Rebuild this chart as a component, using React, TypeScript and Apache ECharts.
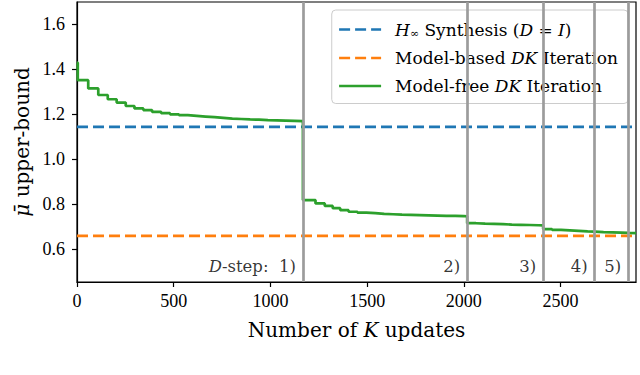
import React, { useEffect, useRef } from 'react';
import * as echarts from 'echarts';

const xTicks = [0, 500, 1000, 1500, 2000, 2500];
const yTicks = [0.6, 0.8, 1.0, 1.2, 1.4, 1.6];
const xMax = 2890;
const yMin = 0.4533;
const yMax = 1.7;

const hinfName = 'H∞ Synthesis (D = I)';
const modelBasedName = 'Model-based DK Iteration';
const modelFreeName = 'Model-free DK Iteration';

const hinfValue = 1.1436;
const modelBasedValue = 0.659;

const dStepX = [1168, 2017, 2410, 2676, 2850];
const dStepLabels = ['{i|D}-step:  1)', '2)', '3)', '4)', '5)'];
const dStepLabelY = 0.522;

const modelFreeX = [
  0, 4, 58, 110, 159, 205, 252, 297, 343, 388, 435, 481, 527, 573, 619, 665, 711, 757, 803, 849, 895, 941, 987, 1033, 1079, 1125,
  1168, 1233, 1281, 1322, 1361, 1404, 1450, 1496, 1542, 1588, 1634, 1680, 1726, 1772, 1818, 1864, 1910, 1956, 2000,
  2017, 2063, 2110, 2156, 2202, 2248, 2294, 2340, 2386,
  2410, 2456, 2502, 2548, 2594, 2640,
  2676, 2722, 2768, 2814, 2850, 2890,
];
const modelFreeY = [
  1.43, 1.352, 1.315, 1.286, 1.267, 1.252, 1.237, 1.226, 1.219, 1.211, 1.205, 1.2, 1.196, 1.193, 1.19, 1.187, 1.184, 1.181, 1.179, 1.177, 1.176, 1.174, 1.173, 1.172, 1.171, 1.17,
  0.818, 0.803, 0.792, 0.782, 0.773, 0.766, 0.762, 0.76, 0.757, 0.755, 0.753, 0.752, 0.751, 0.75, 0.749, 0.748, 0.748, 0.747, 0.746,
  0.715, 0.713, 0.712, 0.711, 0.709, 0.708, 0.707, 0.706, 0.705,
  0.689, 0.685, 0.683, 0.681, 0.679, 0.678,
  0.675, 0.674, 0.673, 0.672, 0.671, 0.671,
];

const NUM_FONT = 'Liberation Serif';
const TXT_FONT = 'DejaVu Serif';

export default function App() {
  const ref = useRef<HTMLDivElement>(null);
  useEffect(() => {
    if (!ref.current) return;
    const chart = echarts.init(ref.current, undefined, { renderer: 'svg' });
    const italic = { fontStyle: 'italic', fontFamily: TXT_FONT, color: '#000' };
    const legendFmt: Record<string, string> = {
      [hinfName]: '{i|H}{sub|∞} Synthesis ({i|D} = {i|I})',
      [modelBasedName]: 'Model-based {i|DK} Iteration',
      [modelFreeName]: 'Model-free {i|DK} Iteration',
    };
    chart.setOption({
      animation: false,
      grid: { left: 77, right: 4, top: 2, bottom: 93, show: true, borderColor: '#000', borderWidth: 1.2, containLabel: false },
      xAxis: {
        type: 'value',
        min: 0,
        max: xMax,
        name: 'Number of {i|K} updates',
        nameLocation: 'middle',
        nameGap: 38,
        nameTextStyle: { fontSize: 20, fontFamily: TXT_FONT, color: '#000', rich: { i: { ...italic, fontSize: 20 } } },
        axisLine: { show: true, lineStyle: { color: '#000', width: 1.2 } },
        axisTick: { show: true, inside: false, length: 5, lineStyle: { color: '#000', width: 1.2 }, customValues: xTicks },
        axisLabel: { fontSize: 18, fontFamily: NUM_FONT, color: '#000', margin: 10, customValues: xTicks, formatter: (v: number) => String(v) },
        splitLine: { show: false },
      },
      yAxis: {
        type: 'value',
        min: yMin,
        max: yMax,
        name: '{i|μ̄} upper-bound',
        nameLocation: 'middle',
        nameGap: 45,
        nameTextStyle: { fontSize: 20, fontFamily: TXT_FONT, color: '#000', rich: { i: { ...italic, fontSize: 20 } } },
        axisLine: { show: true, lineStyle: { color: '#000', width: 1.2 } },
        axisTick: { show: true, inside: false, length: 5, lineStyle: { color: '#000', width: 1.2 }, customValues: yTicks },
        axisLabel: { fontSize: 18, fontFamily: NUM_FONT, color: '#000', margin: 12, customValues: yTicks, formatter: (v: number) => v.toFixed(1) },
        splitLine: { show: false },
      },
      legend: {
        data: [hinfName, modelBasedName, modelFreeName],
        orient: 'vertical',
        right: 12,
        top: 10,
        padding: [11, 10, 9, 6],
        itemGap: 11,
        itemWidth: 42,
        itemHeight: 14,
        borderColor: '#cccccc',
        borderWidth: 1,
        borderRadius: 4,
        backgroundColor: 'rgba(255,255,255,0.8)',
        itemStyle: { opacity: 0 },
        lineStyle: { width: 2.7 },
        formatter: (name: string) => legendFmt[name] || name,
        textStyle: {
          fontSize: 17,
          fontFamily: TXT_FONT,
          color: '#000',
          padding: [0, 0, 0, 9],
          rich: {
            i: { ...italic, fontSize: 17 },
            sub: { fontFamily: TXT_FONT, fontSize: 11, color: '#000', padding: [7, 0, 0, 0] },
          },
        },
      },
      series: [
        {
          name: 'dsteps',
          type: 'scatter',
          z: 1,
          symbolSize: 0,
          silent: true,
          data: dStepX.map((x, i) => ({
            value: [x, dStepLabelY],
            label: {
              show: true,
              position: 'left',
              distance: 7,
              formatter: dStepLabels[i],
              fontSize: 16.5,
              fontFamily: TXT_FONT,
              color: '#000',
              rich: { i: { ...italic, fontSize: 16.5 } },
            },
          })),
          markLine: {
            silent: true,
            symbol: 'none',
            label: { show: false },
            lineStyle: { color: '#9c9c9c', width: 2.7, type: 'solid' },
            data: dStepX.map((x) => ({ xAxis: x })),
          },
        },
        {
          name: hinfName,
          type: 'line',
          z: 3,
          symbol: 'none',
          lineStyle: { color: '#1f77b4', width: 2.7, type: [11, 5] },
          itemStyle: { color: '#1f77b4' },
          data: [[0, hinfValue], [xMax, hinfValue]],
        },
        {
          name: modelBasedName,
          type: 'line',
          z: 3,
          symbol: 'none',
          lineStyle: { color: '#ff7f0e', width: 2.7, type: [11, 5] },
          itemStyle: { color: '#ff7f0e' },
          data: [[0, modelBasedValue], [xMax, modelBasedValue]],
        },
        {
          name: modelFreeName,
          type: 'line',
          z: 3,
          symbol: 'none',
          step: 'end',
          lineStyle: { color: '#2ca02c', width: 2.7 },
          itemStyle: { color: '#2ca02c' },
          data: modelFreeX.map((x, i) => [x, modelFreeY[i]]),
        },
      ],
    });
    return () => chart.dispose();
  }, []);
  return <div ref={ref} style={{ width: 640, height: 375, position: 'absolute', left: 0, top: 0 }} />;
}
